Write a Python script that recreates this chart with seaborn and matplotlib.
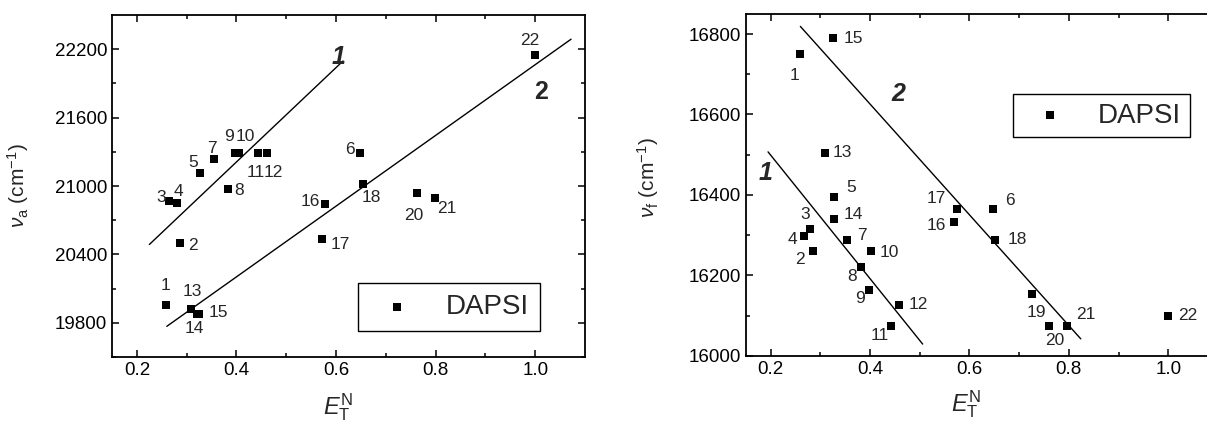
import seaborn as sns
import matplotlib.pyplot as plt
import numpy as np

# data: solvent number, E_T^N, absorption / fluorescence maxima
labels_a = ['1', '2', '3', '4', '5', '6', '7', '8', '9', '10', '11',
            '12', '13', '14', '15', '16', '17', '18', '20', '21', '22']
et_a = [0.258, 0.287, 0.265, 0.28, 0.327, 0.648, 0.354, 0.383, 0.398, 0.405, 0.444,
        0.462, 0.308, 0.32, 0.325, 0.577, 0.572, 0.655, 0.762, 0.799, 1.0]
nu_a = [19957, 20500, 20867, 20847, 21110, 21292, 21240, 20976, 21286, 21286, 21286,
        21286, 19921, 19877, 19877, 20844, 20539, 21020, 20935, 20891, 22147]

labels_f = ['1', '2', '3', '4', '5', '6', '7', '8', '9', '10', '11',
            '12', '13', '14', '15', '16', '17', '18', '19', '20', '21', '22']
et_f = [0.26, 0.286, 0.28, 0.268, 0.327, 0.647, 0.354, 0.382, 0.399, 0.403, 0.442,
        0.459, 0.309, 0.327, 0.325, 0.569, 0.576, 0.652, 0.725, 0.76, 0.797, 1.0]
nu_f = [16750, 16260, 16314, 16297, 16395, 16366, 16287, 16220, 16164, 16260, 16074,
        16127, 16505, 16341, 16790, 16332, 16366, 16287, 16153, 16075, 16075, 16100]

# fitted lines (end points)
fit_a1_x = [0.225, 0.614]
fit_a1_y = [20487, 22097]
fit_a2_x = [0.26, 1.072]
fit_a2_y = [19769, 22288]
fit_f1_x = [0.195, 0.506]
fit_f1_y = [16507, 16029]
fit_f2_x = [0.26, 0.824]
fit_f2_y = [16819, 16042]

# label offsets in pixels (dx, dy)
off_a = [(0, 19), (13, -2), (-8, 4), (2, 12), (-7, 11), (-10, 3), (-2, 10), (11, -2),
         (-6, 17), (6, 17), (-3, -19), (6, -19), (2, 18), (-2, -14), (19, 2),
         (-14, 2), (18, -6), (8, -14), (-3, -22), (12, -10), (-5, 15)]
off_f = [(-6, -21), (-13, -8), (-5, 15), (-12, -3), (17, 9), (17, 8), (15, 5), (-9, -9),
         (-9, -9), (18, -1), (-11, -10), (19, 0), (18, 0), (20, 4), (21, 0),
         (-18, -3), (-21, 10), (22, 1), (5, -18), (6, -15), (18, 11), (19, 0)]

sns.set_style("ticks")
plt.rcParams['font.family'] = ['Liberation Sans', 'DejaVu Sans']
plt.rcParams['mathtext.fontset'] = 'custom'
plt.rcParams['mathtext.rm'] = 'Liberation Sans'
plt.rcParams['mathtext.it'] = 'Liberation Sans:italic'
plt.rcParams['mathtext.bf'] = 'Liberation Sans:bold'

fig = plt.figure(figsize=(12.07, 4.23), dpi=100)
ax1 = fig.add_axes([0.0928, 0.156, 0.3919, 0.8085])
ax2 = fig.add_axes([0.6178, 0.159, 0.3913, 0.808])


def style_axis(ax):
    for s in ax.spines.values():
        s.set_linewidth(1.3)
        s.set_color('black')
    ax.tick_params(which='both', direction='in', top=True, right=True,
                   width=1.1, colors='black', labelsize=13.5)
    ax.tick_params(which='major', length=5)
    ax.tick_params(which='minor', length=3)
    ax.set_xticks([0.2, 0.4, 0.6, 0.8, 1.0])
    ax.set_xticks(np.arange(0.3, 1.1, 0.2), minor=True)
    ax.set_xticklabels(['0.2', '0.4', '0.6', '0.8', '1.0'])
    ax.set_xlim(0.15, 1.1)


def put_labels(ax, xs, ys, names, offs):
    for x, y, t, (dx, dy) in zip(xs, ys, names, offs):
        ax.annotate(t, (x, y), xytext=(dx, dy), textcoords='offset pixels',
                    ha='center', va='center', fontsize=12.5)


# left: absorption
sns.scatterplot(x=et_a, y=nu_a, marker='s', color='black', edgecolor='black',
                s=33, linewidth=0, ax=ax1, label='DAPSI', zorder=3)
ax1.plot(fit_a1_x, fit_a1_y, color='black', lw=1)
ax1.plot(fit_a2_x, fit_a2_y, color='black', lw=1)
put_labels(ax1, et_a, nu_a, labels_a, off_a)
style_axis(ax1)
ax1.set_ylim(19500, 22500)
ax1.set_yticks([19800, 20400, 21000, 21600, 22200])
ax1.set_yticks(np.arange(19500, 22500, 300), minor=True)
ax1.text(0.605, 22130, '1', fontsize=18, fontweight='bold', style='italic', ha='center', va='center')
ax1.text(1.012, 21822, '2', fontsize=18, fontweight='bold', ha='center', va='center')
ax1.set_ylabel(r'$\nu_{\mathrm{a}}$ (cm$^{-1}$)', fontsize=15)
ax1.yaxis.set_label_coords(-0.172, 0.5)
ax1.set_xlabel(r'$E_{\mathrm{T}}^{\mathrm{N}}$', fontsize=17)
ax1.xaxis.set_label_coords(0.478, -0.148)
ax1.xaxis.label.set_va('center')
leg1 = ax1.legend(loc='lower left', bbox_to_anchor=(0.52, 0.076), fontsize=20,
                  frameon=True, fancybox=False, edgecolor='black', framealpha=1,
                  handlelength=2.0, handletextpad=0.75, borderpad=0.4, borderaxespad=0)
leg1.get_frame().set_linewidth(1)

# right: fluorescence
sns.scatterplot(x=et_f, y=nu_f, marker='s', color='black', edgecolor='black',
                s=33, linewidth=0, ax=ax2, label='DAPSI', zorder=3)
ax2.plot(fit_f1_x, fit_f1_y, color='black', lw=1)
ax2.plot(fit_f2_x, fit_f2_y, color='black', lw=1)
put_labels(ax2, et_f, nu_f, labels_f, off_f)
style_axis(ax2)
ax2.set_ylim(16000, 16850)
ax2.set_yticks([16000, 16200, 16400, 16600, 16800])
ax2.set_yticks(np.arange(16100, 16900, 200), minor=True)
ax2.text(0.19, 16455, '1', fontsize=18, fontweight='bold', style='italic', ha='center', va='center')
ax2.text(0.458, 16650, '2', fontsize=18, fontweight='bold', style='italic', ha='center', va='center')
ax2.set_ylabel(r'$\nu_{\mathrm{f}}$ (cm$^{-1}$)', fontsize=15)
ax2.yaxis.set_label_coords(-0.18, 0.52)
ax2.set_xlabel(r'$E_{\mathrm{T}}^{\mathrm{N}}$', fontsize=17)
ax2.xaxis.set_label_coords(0.466, -0.142)
ax2.xaxis.label.set_va('center')
leg2 = ax2.legend(loc='lower left', bbox_to_anchor=(0.567, 0.64), fontsize=20,
                  frameon=True, fancybox=False, edgecolor='black', framealpha=1,
                  handlelength=2.0, handletextpad=0.75, borderpad=0.3, borderaxespad=0)
leg2.get_frame().set_linewidth(1)

fig.savefig('out.png', dpi=100)
